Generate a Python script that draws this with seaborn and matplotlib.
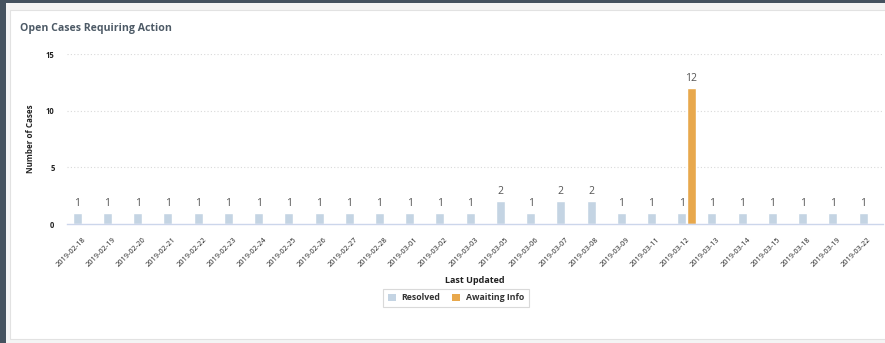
import matplotlib
matplotlib.use("Agg")
import matplotlib.pyplot as plt
import matplotlib.transforms as mtransforms
import seaborn as sns
import pandas as pd
from matplotlib.patches import Rectangle

dates = ["2019-02-18", "2019-02-19", "2019-02-20", "2019-02-21", "2019-02-22",
         "2019-02-23", "2019-02-24", "2019-02-25", "2019-02-26", "2019-02-27",
         "2019-02-28", "2019-03-01", "2019-03-02", "2019-03-03", "2019-03-05",
         "2019-03-06", "2019-03-07", "2019-03-08", "2019-03-09", "2019-03-11",
         "2019-03-12", "2019-03-13", "2019-03-14", "2019-03-15", "2019-03-18",
         "2019-03-19", "2019-03-22"]
resolved = [1, 1, 1, 1, 1, 1, 1, 1, 1, 1, 1, 1, 1, 1, 2, 1, 2, 2, 1, 1, 1, 1, 1, 1, 1, 1, 1]
awaiting = [0] * 20 + [12] + [0] * 6
series_names = ["Resolved", "Awaiting Info"]
colors = ["#c4d4e3", "#e8a84c"]
yticks = [0, 5, 10, 15]

df = pd.DataFrame({
    "date": dates * 2,
    "count": resolved + awaiting,
    "status": [series_names[0]] * len(dates) + [series_names[1]] * len(dates),
})

sns.set_theme(style="white")
plt.rcParams["font.family"] = ["Open Sans", "DejaVu Sans"]

W, H = 885, 343
fig = plt.figure(figsize=(W / 100, H / 100), dpi=100)
fig.patch.set_facecolor("#f4f4f4")

def fx(px):
    return px / W

def fy(py):
    return 1 - py / H

# page decorations
fig.patches.append(Rectangle((0, 0), fx(6), 1, transform=fig.transFigure,
                             facecolor="#45525f", edgecolor="none", zorder=-5))
fig.patches.append(Rectangle((0, fy(3)), 1, 3 / H, transform=fig.transFigure,
                             facecolor="#45525f", edgecolor="none", zorder=-5))
fig.patches.append(Rectangle((fx(10), fy(339)), 1, (339 - 10) / H, transform=fig.transFigure,
                             facecolor="white", edgecolor="#e2e2e2", linewidth=0.8, zorder=-4))

left, right, top, bottom = 67, 883, 54, 224
ax = fig.add_axes([fx(left), fy(bottom), fx(right - left), (bottom - top) / H])
ax.set_facecolor("none")

sns.barplot(data=df, x="date", y="count", hue="status", hue_order=series_names,
            palette=colors, width=0.64, gap=0.08, dodge=True, ax=ax,
            saturation=1, legend=True, errorbar=None)

for cont in ax.containers:
    labels = [("%d" % v) if v > 0 else "" for v in cont.datavalues]
    ax.bar_label(cont, labels=labels, padding=3, fontsize=7.5, color="#555555")

ax.set_ylim(0, 15)
ax.set_xlim(-0.5, len(dates) - 0.5)
ax.set_yticks(yticks)
ax.set_yticklabels([str(t) for t in yticks], fontsize=5.5, fontweight="bold", color="#222222")
for t in yticks[1:]:
    ax.axhline(t, color="#d9d9d9", linestyle=(0, (1, 2)), linewidth=0.8, zorder=0)

for s in ["top", "right", "left"]:
    ax.spines[s].set_visible(False)
ax.spines["bottom"].set_color("#ccd6eb")
ax.spines["bottom"].set_linewidth(1)

ax.set_xticks(range(len(dates)))
ax.set_xticklabels(dates, rotation=45, ha="right", rotation_mode="anchor",
                   fontsize=5.3, color="#222222")
offset = mtransforms.ScaledTranslation(5 / 100, 0, fig.dpi_scale_trans)
for lbl in ax.get_xticklabels():
    lbl.set_transform(lbl.get_transform() + offset)
ax.set_xticks([i - 0.5 for i in range(len(dates) + 1)], minor=True)
ax.tick_params(axis="x", which="major", length=0, pad=9)
ax.tick_params(axis="x", which="minor", length=6, color="#ccd6eb", width=1)
ax.tick_params(axis="y", length=0, pad=9)

ax.set_xlabel("Last Updated", fontsize=6.5, fontweight="bold", color="#222222", labelpad=5)
ax.set_ylabel("Number of Cases", fontsize=5.8, fontweight="bold", color="#222222", labelpad=8)

ax.get_legend().remove()
handles = [Rectangle((0, 0), 1, 1, facecolor=c, edgecolor="none") for c in colors]
leg = fig.legend(handles, series_names, loc="center", bbox_to_anchor=(fx(456), fy(298)),
                 ncol=2, frameon=True, fontsize=6.3, handlelength=0.9, handleheight=0.9,
                 columnspacing=1.3, handletextpad=0.7, borderpad=0.55)
leg.get_frame().set_edgecolor("#d0d0d0")
leg.get_frame().set_linewidth(0.8)
leg.get_frame().set_boxstyle("square", pad=0)
for t in leg.get_texts():
    t.set_fontweight("bold")
    t.set_color("#333333")

fig.text(fx(20), fy(29), "Open Cases Requiring Action", fontsize=7.6, fontweight="bold",
         color="#4d5a66", va="center", ha="left")

fig.savefig("out.png", dpi=100, facecolor=fig.get_facecolor())
